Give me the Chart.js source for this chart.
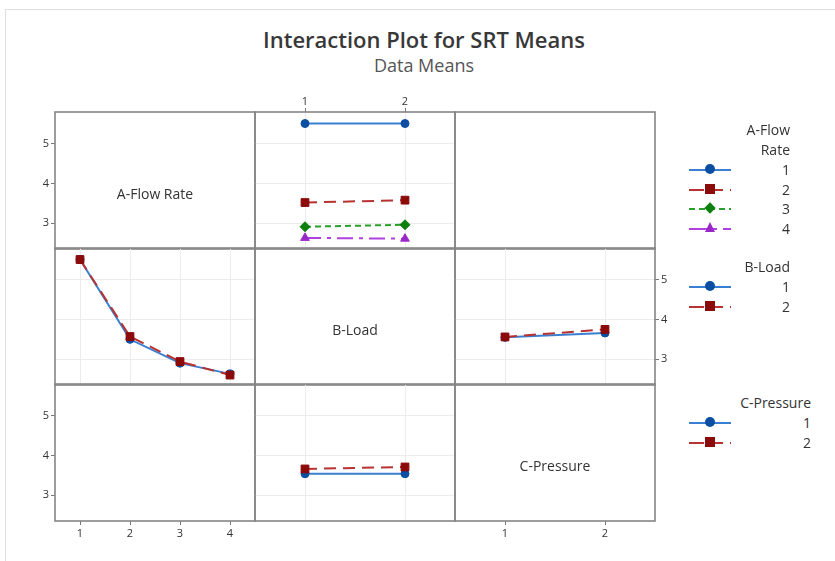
<!DOCTYPE html>
<html>
<head>
<meta charset="utf-8">
<title>Interaction Plot for SRT Means</title>
<script src="https://cdn.jsdelivr.net/npm/chart.js@4.4.0/dist/chart.umd.min.js"></script>
<style>
  body { margin: 0; background: #fff; font-family: 'Open Sans', sans-serif; color: #333; }
  #page { position: relative; width: 835px; height: 561px; overflow: hidden; }
  #frame { position: absolute; left: 5px; top: 9px; right: -2px; bottom: -2px; border-left: 1px solid #dedede; border-top: 1px solid #dedede; }
  canvas { position: absolute; }
  .txt { position: absolute; white-space: nowrap; }
  .title { left: 174px; width: 500px; text-align: center; top: 24px; line-height: 30px; font-size: 22px; font-weight: 600; color: #383838; }
  .subtitle { left: 224px; width: 400px; text-align: center; top: 53px; line-height: 24px; font-size: 18px; color: #555; }
  .cellLabel { width: 200px; text-align: center; line-height: 20px; font-size: 14px; color: #333; }
  .legText { line-height: 20px; font-size: 14px; color: #333; text-align: right; }
  .sym { position: absolute; width: 42px; height: 12px; }
  .sym .ln { position: absolute; left: 0; right: 0; top: 5px; height: 2px; }
  .sym .mk { position: absolute; }
</style>
</head>
<body>
<div id="page">
  <div id="frame"></div>
  <div class="txt title">Interaction Plot for SRT Means</div>
  <div class="txt subtitle">Data Means</div>
</div>
<script>
// ===== Levels and tick labels =====
const flowLevels = [1, 2, 3, 4];
const loadLevels = [1, 2];
const pressureLevels = [1, 2];
const srtTicks = [3, 4, 5];

// ===== SRT means =====
// A-Flow Rate lines across B-Load
const flow1ByLoad = [5.51, 5.51];
const flow2ByLoad = [3.52, 3.58];
const flow3ByLoad = [2.91, 2.96];
const flow4ByLoad = [2.63, 2.61];
// B-Load lines across A-Flow Rate
const load1ByFlow = [5.51, 3.50, 2.90, 2.63];
const load2ByFlow = [5.51, 3.57, 2.94, 2.60];
// B-Load lines across C-Pressure
const load1ByPressure = [3.55, 3.66];
const load2ByPressure = [3.56, 3.75];
// C-Pressure lines across B-Load
const pressure1ByLoad = [3.54, 3.54];
const pressure2ByLoad = [3.66, 3.71];

// ===== Look =====
const levelStyles = [
    { line: '#3a7fd1', mark: '#0b4ea2', shape: 'circle', radius: 4, dash: [], legShift: 0 },
    { line: '#b83232', mark: '#8b0a0a', shape: 'rect', radius: 5.5, dash: [12, 7], legShift: 3 },
    { line: '#2aa02a', mark: '#0d7f0d', shape: 'rectRot', radius: 5, dash: [6, 4], legShift: 0 },
    { line: '#b040e0', mark: '#9a28c8', shape: 'triangle', radius: 5, dash: [16, 6, 4, 6], legShift: 2 }
];

Chart.defaults.font.family = "'Open Sans', sans-serif";
Chart.defaults.font.size = 11;
Chart.defaults.color = '#333';

const page = document.getElementById('page');
const cols = [55, 255, 455];
const rows = [112, 248, 384];
const cw = 200, ch = 137;
const AX = 25, M = 2;
const yRange = [2.35, 5.8];

const framePlugin = {
    id: 'cellFrame',
    afterDraw(chart) {
        const a = chart.chartArea, ctx = chart.ctx;
        ctx.save();
        ctx.strokeStyle = '#858585';
        ctx.lineWidth = 1.6;
        ctx.strokeRect(a.left, a.top, a.right - a.left, a.bottom - a.top);
        ctx.restore();
    }
};

function scale(min, max, ticks, pos, grid, fallback) {
    const show = !!pos;
    return {
        type: 'linear', min, max,
        position: pos || fallback,
        afterBuildTicks: s => { s.ticks = ticks.map(v => ({ value: v })); },
        afterFit: s => {
            if (s.isHorizontal()) s.height = show ? AX : 0; else s.width = show ? AX : 0;
            // keep the plot area exactly on the cell
            s.paddingTop = s.paddingBottom = s.paddingLeft = s.paddingRight = 0;
        },
        ticks: { display: show, padding: pos === 'top' ? 0 : 2, color: '#333', callback: v => v },
        grid: { display: show || grid, drawOnChartArea: grid, drawTicks: show, tickLength: 4, color: '#ececec', tickColor: '#777', lineWidth: 1 },
        border: { display: false }
    };
}

// ===== One cell of the matrix =====
function makeCell(c, r, o) {
    const pad = {
        l: o.yPos === 'left' ? AX : 0, r: o.yPos === 'right' ? AX : 0,
        t: o.xPos === 'top' ? AX : 0, b: o.xPos === 'bottom' ? AX : 0
    };
    const w = cw + pad.l + pad.r + 2 * M, h = ch + pad.t + pad.b + 2 * M;
    const cv = document.createElement('canvas');
    cv.width = w; cv.height = h;
    cv.style.width = w + 'px'; cv.style.height = h + 'px';
    cv.style.left = (cols[c] - pad.l - M) + 'px';
    cv.style.top = (rows[r] - pad.t - M) + 'px';
    page.appendChild(cv);

    const grid = !!o.series;
    const datasets = (o.series || []).map((ys, i) => {
        const st = levelStyles[i];
        return {
            data: o.xs.map((x, j) => ({ x, y: ys[j] })),
            borderColor: st.line, borderWidth: 2, borderDash: st.dash,
            pointStyle: st.shape, pointRadius: st.radius,
            pointBackgroundColor: st.mark, pointBorderColor: st.mark, pointBorderWidth: 1,
            order: -i, clip: false
        };
    });

    new Chart(cv, {
        type: 'line',
        data: { datasets },
        options: {
            responsive: false, animation: false, devicePixelRatio: 1,
            layout: { padding: M, autoPadding: false },
            plugins: { legend: { display: false }, tooltip: { enabled: false } },
            scales: {
                x: scale(o.xMin, o.xMax, o.xTicks, o.xPos, grid, 'bottom'),
                y: scale(yRange[0], yRange[1], srtTicks, o.yPos, grid, 'left')
            }
        },
        plugins: [framePlugin]
    });

    if (o.label) {
        const d = document.createElement('div');
        d.className = 'txt cellLabel';
        d.textContent = o.label;
        d.style.left = cols[c] + 'px';
        d.style.top = (rows[r] + ch / 2 + 13 - 10) + 'px';
        page.appendChild(d);
    }
}

const flowAxis = { xs: flowLevels, xTicks: flowLevels, xMin: 0.5, xMax: 4.5 };
const loadAxis = { xs: loadLevels, xTicks: loadLevels, xMin: 0.5, xMax: 2.5 };
const pressureAxis = { xs: pressureLevels, xTicks: pressureLevels, xMin: 0.5, xMax: 2.5 };

// row 1
makeCell(0, 0, { ...flowAxis, yPos: 'left', label: 'A-Flow Rate' });
makeCell(1, 0, { ...loadAxis, xPos: 'top', series: [flow1ByLoad, flow2ByLoad, flow3ByLoad, flow4ByLoad] });
makeCell(2, 0, { ...pressureAxis });
// row 2
makeCell(0, 1, { ...flowAxis, series: [load1ByFlow, load2ByFlow] });
makeCell(1, 1, { ...loadAxis, label: 'B-Load' });
makeCell(2, 1, { ...pressureAxis, yPos: 'right', series: [load1ByPressure, load2ByPressure] });
// row 3
makeCell(0, 2, { ...flowAxis, xPos: 'bottom', yPos: 'left' });
makeCell(1, 2, { ...loadAxis, series: [pressure1ByLoad, pressure2ByLoad] });
makeCell(2, 2, { ...pressureAxis, xPos: 'bottom', label: 'C-Pressure' });

// ===== Legend =====
function dashBackground(st) {
    if (!st.dash.length) return st.line;
    let stops = [], pos = 0;
    st.dash.forEach((len, i) => {
        const col = i % 2 === 0 ? st.line : 'transparent';
        stops.push(`${col} ${pos}px ${pos + len}px`);
        pos += len;
    });
    return `repeating-linear-gradient(to right, ${stops.join(', ')})`;
}

function markerCss(st) {
    const c = st.mark;
    if (st.shape === 'circle') return `left:16px;top:0px;width:10px;height:10px;border-radius:50%;background:${c}`;
    if (st.shape === 'rect') return `left:16px;top:0px;width:10px;height:10px;background:${c}`;
    if (st.shape === 'rectRot') return `left:17px;top:1px;width:8px;height:8px;background:${c};transform:rotate(45deg)`;
    return `left:16px;top:-1px;width:0;height:0;border-left:5px solid transparent;border-right:5px solid transparent;border-bottom:10px solid ${c}`;
}

function addText(txt, right, cy) {
    const d = document.createElement('div');
    d.className = 'txt legText';
    d.textContent = txt;
    d.style.left = (right - 150) + 'px';
    d.style.width = '150px';
    d.style.top = (cy - 10) + 'px';
    page.appendChild(d);
}

const legendGroups = [
    { title: ['A-Flow', 'Rate'], levels: flowLevels, top: 130, right: 790 },
    { title: ['B-Load'], levels: loadLevels, top: 267, right: 790 },
    { title: ['C-Pressure'], levels: pressureLevels, top: 403, right: 811 }
];
const step = 19.5;
legendGroups.forEach(g => {
    let y = g.top;
    g.title.forEach(t => { addText(t, g.right, y); y += 20; });
    g.levels.forEach((lv, i) => {
        const st = levelStyles[i];
        const s = document.createElement('div');
        s.className = 'sym';
        s.style.left = '689px';
        s.style.top = (y - 6) + 'px';
        s.innerHTML = `<div class="ln" style="background:${dashBackground(st)};background-position:${st.legShift}px 0"></div><div class="mk" style="${markerCss(st)}"></div>`;
        page.appendChild(s);
        addText(String(lv), g.right, y);
        y += step;
    });
});
</script>
</body>
</html>
